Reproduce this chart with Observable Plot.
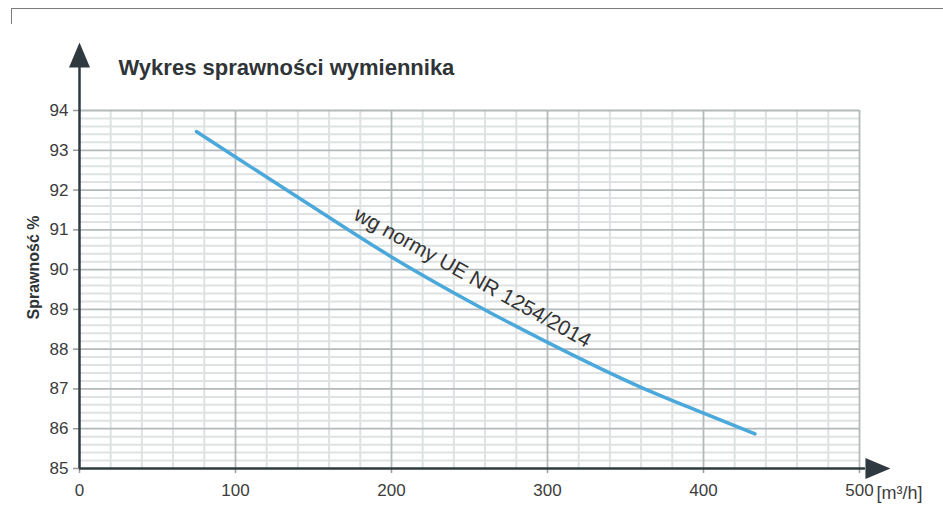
<!DOCTYPE html>
<html>
<head>
<meta charset="utf-8">
<script src="https://cdn.jsdelivr.net/npm/d3@7"></script>
<script src="https://cdn.jsdelivr.net/npm/@observablehq/plot@0.6"></script>
<style>
  html, body { margin: 0; padding: 0; background: #fff; }
  #wrap { position: relative; width: 943px; height: 505px; }
  #frame { position: absolute; left: 11px; top: 8px; right: 0; height: 15px;
           border-top: 1.5px solid #7a7a7a; border-left: 1.5px solid #7a7a7a; }
</style>
</head>
<body>
<div id="wrap"><div id="frame"></div></div>
<script>
// ---- data ----
const title = "Wykres sprawności wymiennika";
const yLabel = "Sprawność %";
const xUnit = "[m³/h]";
const annotation = "wg normy UE NR 1254/2014";
const flow = [75, 100, 140, 200, 250, 300, 360, 400, 433];
const efficiency = [93.47, 92.83, 91.82, 90.32, 89.2, 88.17, 87.04, 86.39, 85.87];
const xTicks = [0, 100, 200, 300, 400, 500];
const yTicks = [85, 86, 87, 88, 89, 90, 91, 92, 93, 94];
const xMinor = d3.range(20, 500, 20).filter(d => d % 100 !== 0);
const yMinor = d3.range(85.2, 94, 0.2).map(d => +d.toFixed(1)).filter(d => Math.abs(d - Math.round(d)) > 1e-6);
const annotationAt = {x: 252, y: 89.8};
const axisEnd = {x: 503.8, y: 95.08};

const curve = flow.map((f, i) => ({flow: f, eff: efficiency[i]}));

const font = "Liberation Sans, Arial, Helvetica, sans-serif";

// arrowhead symbols (shape only)
const arrowUp = { draw(ctx) { ctx.moveTo(0, -25); ctx.lineTo(10.5, 0); ctx.lineTo(-10.5, 0); ctx.closePath(); } };
const arrowRight = { draw(ctx) { ctx.moveTo(25, 0); ctx.lineTo(0, -10.5); ctx.lineTo(0, 10.5); ctx.closePath(); } };

const chart = Plot.plot({
  width: 943,
  height: 505,
  marginLeft: 79,
  marginRight: 84,
  marginTop: 110,
  marginBottom: 37,
  style: {fontFamily: font, background: "transparent", overflow: "visible"},
  x: {domain: [0, 500], axis: null},
  y: {domain: [85, 94], axis: null},
  marks: [
    Plot.ruleX(xMinor, {stroke: "#dfe2e2", strokeWidth: 2}),
    Plot.ruleY(yMinor, {stroke: "#dfe2e2", strokeWidth: 2}),
    Plot.ruleX(xTicks.slice(1), {stroke: "#b4b9ba", strokeWidth: 1.8}),
    Plot.ruleY(yTicks.slice(1), {stroke: "#b4b9ba", strokeWidth: 1.8}),
    Plot.line(curve, {x: "flow", y: "eff", curve: "monotone-x", stroke: "#4aa9da", strokeWidth: 3.5, strokeLinecap: "round"}),
    Plot.text([annotation], {x: annotationAt.x, y: annotationAt.y, text: d => d, rotate: 29, fontSize: 21, fill: "#333"}),
    Plot.axisY(yTicks, {tickSize: 6, tickPadding: 5, fontSize: 17, color: "#3c3c3c", stroke: "#9a9a9a", strokeWidth: 1.5, label: null}),
    Plot.axisX(xTicks, {tickSize: 5, tickPadding: 10, fontSize: 17, color: "#3c3c3c", stroke: "#9a9a9a", strokeWidth: 1.5, label: null}),
    Plot.ruleX([0], {y1: 85, y2: axisEnd.y, stroke: "#2e3a40", strokeWidth: 2.5}),
    Plot.ruleY([85], {x1: 0, x2: axisEnd.x, stroke: "#2e3a40", strokeWidth: 2.5}),
    Plot.dot([0], {x: 0, y: axisEnd.y, symbol: arrowUp, fill: "#2e3a40", stroke: null, r: 5}),
    Plot.dot([0], {x: axisEnd.x, y: 85, symbol: arrowRight, fill: "#2e3a40", stroke: null, r: 5}),
    Plot.text([xUnit], {x: xTicks[xTicks.length - 1], y: 85, text: d => d, textAnchor: "start", dx: 17, dy: 25, fontSize: 18, fill: "#3c3c3c"}),
    Plot.text([title], {frameAnchor: "top-left", text: d => d, textAnchor: "start", lineAnchor: "bottom", dx: 39, dy: -36, fontSize: 22, fontWeight: "bold", fill: "#2f3437"}),
    Plot.text([yLabel], {frameAnchor: "left", text: d => d, textAnchor: "middle", rotate: -90, dx: -46, dy: -22, fontSize: 16, fontWeight: "bold", fill: "#2f3437"})
  ]
});
chart.style.position = "absolute";
chart.style.left = "0";
chart.style.top = "0";
document.getElementById("wrap").appendChild(chart);
</script>
</body>
</html>
